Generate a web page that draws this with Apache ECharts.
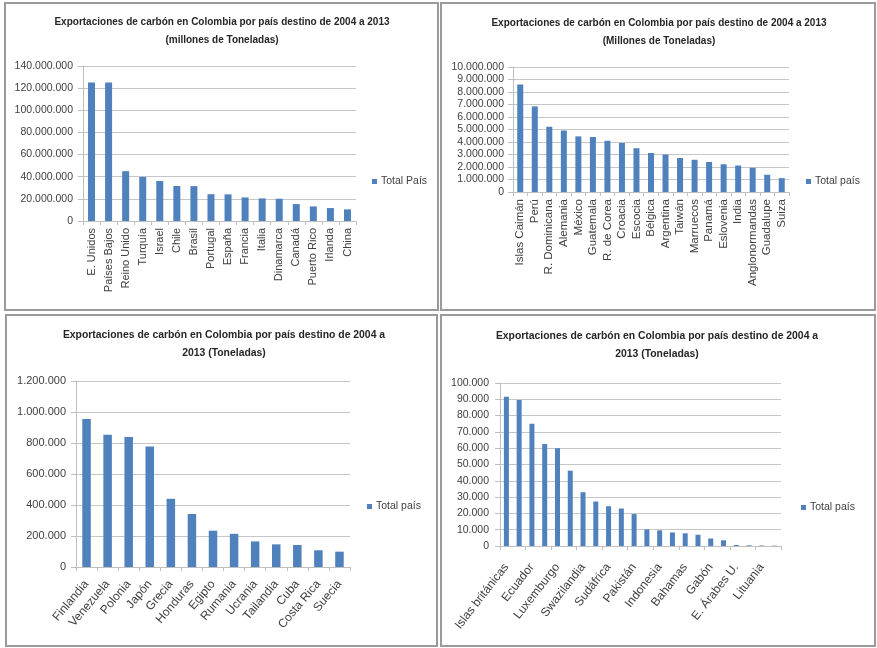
<!DOCTYPE html>
<html>
<head>
<meta charset="utf-8">
<script src="https://cdn.jsdelivr.net/npm/echarts@6/dist/echarts.min.js"></script>
<style>
  html, body { margin: 0; padding: 0; background: #ffffff; }
  #main { width: 877px; height: 648px; }
</style>
</head>
<body>
<div id="main"></div>
<script>
// Colombian coal exports by destination country, 2004-2013 (tonnes)
const titleText1 = 'Exportaciones de carbón en Colombia por país destino de 2004 a 2013\n(millones de Toneladas)';
const titleText2 = 'Exportaciones de carbón en Colombia por país destino de 2004 a 2013\n(Millones de Toneladas)';
const titleText3 = 'Exportaciones de carbón en Colombia por país destino de 2004 a\n2013 (Toneladas)';
const titleText4 = 'Exportaciones de carbón en Colombia por país destino de 2004 a\n2013 (Toneladas)';

const countries1 = ['E. Unidos', 'Países Bajos', 'Reino Unido', 'Turquía', 'Israel', 'Chile', 'Brasil', 'Portugal',
  'España', 'Francia', 'Italia', 'Dinamarca', 'Canadá', 'Puerto Rico', 'Irlanda', 'China'];
const values1 = [125200000, 125000000, 45000000, 39800000, 36100000, 31600000, 31500000, 24200000,
  24100000, 21300000, 20400000, 20100000, 15300000, 13200000, 11700000, 10500000];

const countries2 = ['Islas Caimán', 'Perú', 'R. Dominicana', 'Alemania', 'México', 'Guatemala', 'R. de Corea',
  'Croacia', 'Escocia', 'Bélgica', 'Argentina', 'Taiwán', 'Marruecos', 'Panamá', 'Eslovenia', 'India',
  'Anglonormandas', 'Guadalupe', 'Suiza'];
const values2 = [8600000, 6850000, 5220000, 4920000, 4450000, 4400000, 4100000, 3920000, 3500000, 3120000,
  3000000, 2720000, 2580000, 2400000, 2220000, 2120000, 1940000, 1380000, 1110000];

const countries3 = ['Finlandia', 'Venezuela', 'Polonia', 'Japón', 'Grecia', 'Honduras', 'Egipto', 'Rumania',
  'Ucrania', 'Tailandia', 'Cuba', 'Costa Rica', 'Suecia'];
const values3 = [955000, 853000, 838000, 778000, 440000, 342000, 234000, 214000, 165000, 146000, 142000, 108000, 99000];

const countries4 = ['Islas británicas', 'Noruega', 'Ecuador', 'Jamaica', 'Luxemburgo', 'Malta', 'Swazilandia',
  'Chipre', 'Sudáfrica', 'Letonia', 'Pakistán', 'Bulgaria', 'Indonesia', 'Senegal', 'Bahamas', 'Singapur',
  'Gabón', 'Aruba', 'E. Árabes U.', 'Haití', 'Lituania', 'Estonia'];
const values4 = [91500, 89500, 75000, 62600, 60000, 46200, 33000, 27300, 24400, 23000, 19600, 10200,
  9600, 8300, 7800, 6900, 4600, 3500, 600, 400, 300, 200];

const legendName1 = 'Total País';
const legendName = 'Total país';

const BAR = '#4f81bd';
const GRIDLINE = '#c6c6c6';
const AXIS = '#bfbfbf';
const FONT = 'Liberation Sans, Arial, sans-serif';

function thousands(v) {
  return String(Math.round(v)).replace(/\B(?=(\d{3})+(?!\d))/g, '.');
}

const grids = [
  { left: 83, top: 66, width: 273, height: 155 },
  { left: 513, top: 67, width: 276, height: 125 },
  { left: 76, top: 381, width: 274, height: 186 },
  { left: 500, top: 383, width: 281, height: 163 }
];

const yMax = [140000000, 10000000, 1200000, 100000];
const yStep = [20000000, 1000000, 200000, 10000];
const cats = [countries1, countries2, countries3, countries4];
const vals = [values1, values2, values3, values4];
const rot = [90, 90, 50, 52];
const labInterval = [0, 0, 0, 1];
const labMargin = [7, 7, 15, 19];
const labSize = [11, 11.5, 12, 12];
const yLabSize = [10.5, 10.5, 11, 10.5];
const yLabMargin = [10, 9, 10, 11];
const barW = [7, 6, 8.5, 5];

const xAxes = cats.map((c, i) => ({
  type: 'category', gridIndex: i, data: c,
  axisLine: { lineStyle: { color: AXIS, width: 1 } },
  axisTick: { show: true, length: 4, lineStyle: { color: AXIS } },
  axisLabel: {
    interval: labInterval[i], rotate: rot[i], margin: labMargin[i],
    color: '#404040', fontFamily: FONT, fontSize: labSize[i]
  }
}));

const yAxes = yMax.map((m, i) => ({
  type: 'value', gridIndex: i, min: 0, max: m, interval: yStep[i],
  axisLine: { show: true, lineStyle: { color: AXIS } },
  axisTick: { show: true, length: 5, lineStyle: { color: AXIS } },
  splitLine: { lineStyle: { color: GRIDLINE, width: 1 } },
  axisLabel: { margin: yLabMargin[i], color: '#404040', fontFamily: FONT, fontSize: yLabSize[i], formatter: thousands }
}));

const series = vals.map((v, i) => ({
  type: 'bar', name: i === 0 ? legendName1 : legendName,
  xAxisIndex: i, yAxisIndex: i, data: v, barWidth: barW[i],
  itemStyle: { color: BAR }
}));

const legendPos = [
  { left: 372, top: 176, name: legendName1 },
  { left: 806, top: 176, name: legendName },
  { left: 367, top: 501, name: legendName },
  { left: 801, top: 502, name: legendName }
];
const legends = legendPos.map(p => ({
  left: p.left, top: p.top, padding: 0, data: [p.name],
  icon: 'rect', itemWidth: 5, itemHeight: 5, itemGap: 0,
  textStyle: { color: '#404040', fontFamily: FONT, fontSize: 10.5, padding: [0, 0, 0, -1] },
  selectedMode: false
}));

const titles = [
  { x: 222, y: 13, size: 10, text: titleText1 },
  { x: 659, y: 14, size: 10, text: titleText2 },
  { x: 224, y: 326, size: 10.4, text: titleText3 },
  { x: 657, y: 327, size: 10.4, text: titleText4 }
];

const panels = [
  { x: 5, y: 3, w: 433, h: 307 },
  { x: 441, y: 3, w: 434, h: 307 },
  { x: 6, y: 315, w: 431, h: 331 },
  { x: 441, y: 315, w: 434, h: 331 }
];

const graphics = [];
panels.forEach(p => graphics.push({
  type: 'rect', silent: true,
  shape: { x: p.x, y: p.y, width: p.w, height: p.h },
  style: { fill: 'none', stroke: '#9a9a9a', lineWidth: 2 }
}));
titles.forEach(t => graphics.push({
  type: 'text', silent: true, x: t.x, y: t.y,
  style: {
    text: t.text, textAlign: 'center', textVerticalAlign: 'top',
    font: 'bold ' + t.size + 'px ' + FONT, lineHeight: 18, fill: '#262626'
  }
}));

const chart = echarts.init(document.getElementById('main'), null, { renderer: 'canvas' });
chart.setOption({
  animation: false,
  backgroundColor: '#ffffff',
  grid: grids,
  xAxis: xAxes,
  yAxis: yAxes,
  legend: legends,
  series: series,
  graphic: graphics
});
</script>
</body>
</html>
